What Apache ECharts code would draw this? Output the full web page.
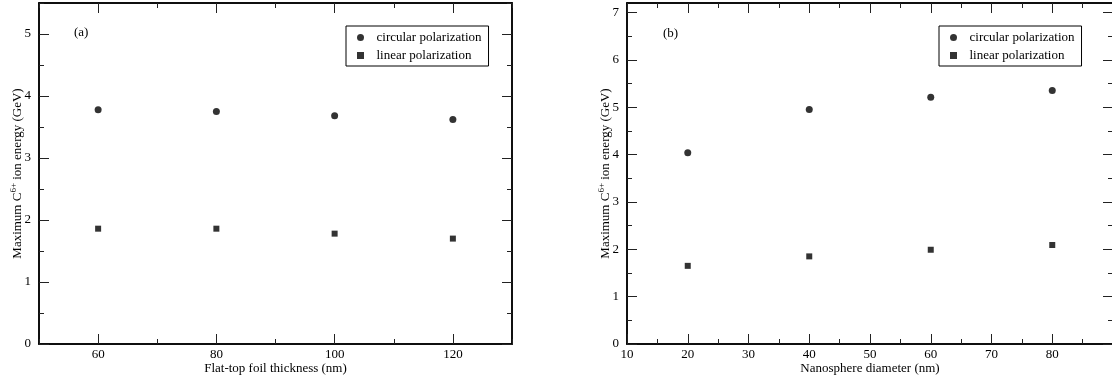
<!DOCTYPE html>
<html>
<head>
<meta charset="utf-8">
<script src="https://cdn.jsdelivr.net/npm/echarts@6/dist/echarts.min.js"></script>
<style>
  html, body { margin: 0; padding: 0; background: #fff; }
  #chart { width: 1112px; height: 381px; }
</style>
</head>
<body>
<div id="chart"></div>
<script>
// (a) flat-top foil
const thicknessNm = [60, 80, 100, 120];
const foilCircular = [3.78, 3.75, 3.68, 3.62];
const foilLinear = [1.86, 1.86, 1.78, 1.70];

// (b) nanosphere
const diameterNm = [20, 40, 60, 80];
const sphereCircular = [4.04, 4.95, 5.21, 5.35];
const sphereLinear = [1.65, 1.85, 1.99, 2.09];

// tick positions and labels
const aXMajor = [60, 80, 100, 120];
const aXMinor = [50, 70, 90, 110, 130];
const aYMajor = [0, 1, 2, 3, 4, 5];
const aYMinor = [0.5, 1.5, 2.5, 3.5, 4.5, 5.5];
const bXMajor = [10, 20, 30, 40, 50, 60, 70, 80, 90];
const bXLabels = [10, 20, 30, 40, 50, 60, 70, 80];
const bXMinor = [15, 25, 35, 45, 55, 65, 75, 85];
const bYMajor = [0, 1, 2, 3, 4, 5, 6, 7];
const bYMinor = [0.5, 1.5, 2.5, 3.5, 4.5, 5.5, 6.5];

const FONT = '"Liberation Serif", "Times New Roman", serif';
const yTitle = 'Maximum C{sup|6+} ion energy (GeV)';

// zip x and y into points
function pts(xs, ys) {
  return xs.map((x, i) => [x, ys[i]]);
}

// one side of the frame: major ticks + labels, or minor ticks only
function axis(dim, grid, pos, min, max, ticks, len, labels, name) {
  let ax = {
    type: 'value',
    gridIndex: grid,
    position: pos,
    min: min,
    max: max,
    splitLine: {show: false},
    axisLine: {show: true, onZero: false, lineStyle: {color: '#000', width: 1.5}},
    axisTick: {show: true, inside: true, length: len, customValues: ticks,
      lineStyle: {color: '#222', width: 1}},
    axisLabel: {show: false}
  };
  if (labels) {
    ax.axisLabel = {show: true, customValues: labels, color: '#000',
      fontFamily: FONT, fontSize: 13, margin: dim === 'x' ? 4 : 8};
  }
  if (name) {
    ax.name = name;
    ax.nameLocation = 'middle';
    ax.nameMoveOverlap = false;
    ax.nameTextStyle = {color: '#000', fontFamily: FONT, fontSize: 13,
      rich: {sup: {fontSize: 9, fontFamily: FONT, color: '#000', padding: [0, 0, 8, 0]}}};
    if (dim === 'x') {
      ax.nameGap = 18;
    } else {
      ax.nameGap = 13;
      ax.nameRotate = 90;
    }
  }
  return ax;
}

function sideAxes(dim, grid, min, max, major, minor, labels, name) {
  let lo = dim === 'x' ? 'bottom' : 'left';
  let hi = dim === 'x' ? 'top' : 'right';
  return [
    axis(dim, grid, lo, min, max, major, 10, labels, name),
    axis(dim, grid, lo, min, max, minor, 5, null, null),
    axis(dim, grid, hi, min, max, major, 10, null, null),
    axis(dim, grid, hi, min, max, minor, 5, null, null)
  ];
}

function legendFor(left) {
  return {
    left: left,
    top: 26,
    orient: 'vertical',
    borderColor: '#000',
    borderWidth: 1,
    borderRadius: 0,
    padding: [5, 7, 4, 11],
    itemGap: 5,
    itemWidth: 22,
    itemHeight: 7,
    symbolKeepAspect: true,
    textStyle: {color: '#000', fontFamily: FONT, fontSize: 13},
    data: [
      {name: 'circular polarization', icon: 'circle'},
      {name: 'linear polarization', icon: 'path://M0,0H10V10H0Z'}
    ]
  };
}

const xAxes = sideAxes('x', 0, 50, 130, aXMajor, aXMinor, aXMajor, 'Flat-top foil thickness (nm)')
  .concat(sideAxes('x', 1, 10, 90, bXMajor, bXMinor, bXLabels, 'Nanosphere diameter (nm)'));
const yAxes = sideAxes('y', 0, 0, 5.5, aYMajor, aYMinor, aYMajor, yTitle)
  .concat(sideAxes('y', 1, 0, 7.2, bYMajor, bYMinor, bYMajor, yTitle));

const circleStyle = {type: 'scatter', symbol: 'circle', symbolSize: 7, itemStyle: {color: '#000'}};
const squareStyle = {type: 'scatter', symbol: 'rect', symbolSize: 6, itemStyle: {color: '#000'}};

let option = {
  animation: false,
  backgroundColor: '#fff',
  grid: [
    {left: 39, right: 600, top: 3, bottom: 37, outerBoundsMode: 'none'},
    {left: 627, right: -1, top: 3, bottom: 37, outerBoundsMode: 'none'}
  ],
  legend: [legendFor(346), legendFor(939)],
  xAxis: xAxes,
  yAxis: yAxes,
  graphic: [
    {type: 'text', left: 74, top: 26, style: {text: '(a)', font: '13px ' + FONT, fill: '#000'}},
    {type: 'text', left: 663, top: 27, style: {text: '(b)', font: '13px ' + FONT, fill: '#000'}}
  ],
  series: [
    Object.assign({name: 'circular polarization', xAxisIndex: 0, yAxisIndex: 0,
      data: pts(thicknessNm, foilCircular)}, circleStyle),
    Object.assign({name: 'linear polarization', xAxisIndex: 0, yAxisIndex: 0,
      data: pts(thicknessNm, foilLinear)}, squareStyle),
    Object.assign({name: 'circular polarization', xAxisIndex: 4, yAxisIndex: 4,
      data: pts(diameterNm, sphereCircular)}, circleStyle),
    Object.assign({name: 'linear polarization', xAxisIndex: 4, yAxisIndex: 4,
      data: pts(diameterNm, sphereLinear)}, squareStyle)
  ]
};

let myChart = echarts.init(document.getElementById('chart'), null, {renderer: 'canvas'});
myChart.setOption(option);
</script>
</body>
</html>
